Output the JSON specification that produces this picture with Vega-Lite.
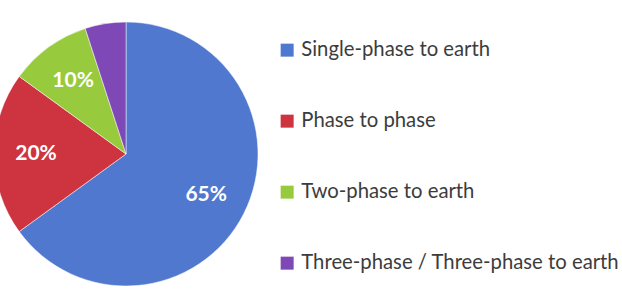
{
  "$schema": "https://vega.github.io/schema/vega-lite/v6.json",
  "width": 252,
  "height": 280,
  "autosize": "none",
  "padding": {"top": 14, "left": 0, "right": 370, "bottom": 0},
  "background": "white",
  "config": {"view": {"stroke": null}},
  "data": {
    "values": [
      {"type": "Single-phase to earth", "value": 65, "label": "65%", "order": 1},
      {"type": "Phase to phase", "value": 20, "label": "20%", "order": 2},
      {"type": "Two-phase to earth", "value": 10, "label": "10%", "order": 3},
      {"type": "Three-phase / Three-phase to earth", "value": 5, "label": "", "order": 4}
    ]
  },
  "encoding": {
    "theta": {"field": "value", "type": "quantitative", "stack": true},
    "order": {"field": "order", "type": "quantitative"},
    "color": {
      "field": "type",
      "type": "nominal",
      "scale": {
        "domain": ["Single-phase to earth", "Phase to phase", "Two-phase to earth", "Three-phase / Three-phase to earth"],
        "range": ["#4F78CE", "#CE3340", "#97CB3D", "#7E48B7"]
      },
      "legend": {
        "title": null,
        "orient": "none",
        "legendX": 277,
        "legendY": 26,
        "symbolType": "square",
        "symbolSize": 169,
        "symbolStrokeWidth": 0,
        "labelFont": "Lato",
        "labelFontSize": 20.3,
        "labelColor": "#3c3c3c",
        "labelOffset": 4,
        "labelLimit": 400,
        "rowPadding": 50
      }
    }
  },
  "layer": [
    {
      "mark": {"type": "arc", "outerRadius": 132, "stroke": "#ffffff", "strokeWidth": 0.5}
    },
    {
      "mark": {"type": "text", "radius": 90, "font": "Lato", "fontWeight": "bold", "fontSize": 21, "fill": "white"},
      "encoding": {
        "text": {"field": "label"},
        "color": {"value": "white"}
      }
    }
  ]
}
